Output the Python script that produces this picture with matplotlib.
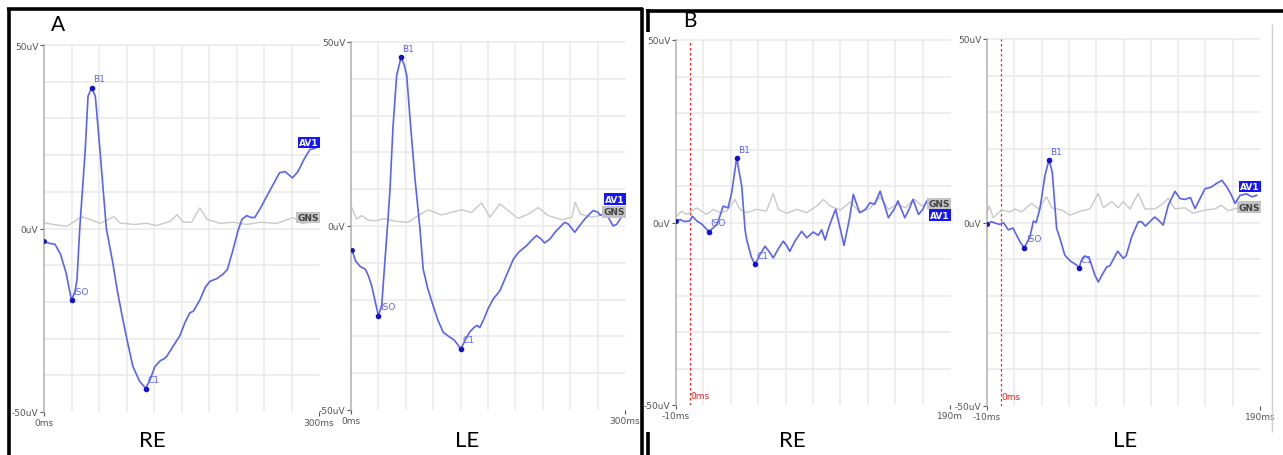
import matplotlib
matplotlib.use("Agg")
import matplotlib.pyplot as plt
from matplotlib.lines import Line2D

# ---- data ----
# Panel A, right eye (time in ms, amplitude in uV)
a_re_t = [0, 5, 12, 18, 24, 30, 34, 36, 39, 45, 48, 52, 56, 61, 68, 75, 80, 86, 92, 97,
          104, 111, 116, 121, 127, 131, 134, 141, 148, 154, 159, 163, 170, 176, 181,
          189, 195, 200, 206, 212, 216, 221, 226, 230, 236, 243, 250, 257, 263, 271,
          277, 284, 290, 295, 299]
a_re_v = [-3.5, -4.0, -4.3, -7, -12, -19.6, -17, -13.9, 0, 21.5, 36, 38.4, 36, 21.5, 0,
          -9.3, -17, -24.8, -32, -37.6, -41.5, -43.6, -41, -37.6, -36, -35.5, -34.8,
          -32, -29.3, -25.5, -23, -22.5, -19.5, -16, -14.4, -13.6, -12.5, -11.2, -6,
          -0.3, 2.5, 3.5, 3.0, 3.0, 5.5, 8.8, 12, 15.2, 15.5, 13.8, 15.5, 19, 21.5,
          21.8, 22.3]
a_re_gns_t = [1, 10, 25, 41, 50, 61, 76, 83, 98, 112, 123, 138, 145, 152, 161, 170,
              178, 192, 207, 221, 236, 254, 272, 281, 299]
a_re_gns_v = [1.5, 1.1, 0.6, 3.2, 2.5, 1.4, 3.2, 1.5, 1.1, 1.4, 0.8, 2.0, 3.8, 1.7,
              1.7, 5.6, 2.5, 1.4, 1.7, 1.1, 1.7, 1.4, 3.0, 1.4, 2.0]

# Panel A, left eye
a_le_t = [1, 5, 10, 15.6, 19, 22.6, 26, 30, 33.6, 37, 40.5, 42.7, 46, 50, 54.7, 58, 61,
          65, 70, 75.5, 79, 84, 90, 95, 101, 107, 113, 120.4, 125, 130, 135, 138, 141,
          146, 150, 155.8, 163, 170, 177.8, 184, 192, 198, 203, 208, 212, 218, 224,
          230, 234, 238, 245, 250, 256, 265, 270, 273, 278, 282, 287, 291, 295, 298]
a_le_v = [-6.4, -9.5, -11, -11.7, -13.5, -16.2, -20, -24.4, -21.6, -10, 1.9, 10, 27,
          40.9, 45.8, 44, 40.9, 28, 13, -0.8, -11.7, -17, -21.7, -25.5, -28.9, -30,
          -31, -33.4, -31, -28.8, -27.5, -27, -27.6, -25, -22.5, -19.8, -17.6, -13.5,
          -9, -7, -5.4, -3.8, -2.6, -3.5, -4.6, -3.5, -1.5, 0, 1, 0.5, -1.7, 0, 1.9,
          4.2, 3.8, 2.9, 3.5, 2.2, 0, 0.5, 2, 3.8]
a_le_gns_t = [0.7, 6, 11.7, 18.9, 26, 37, 48, 62.5, 73.5, 84.5, 99, 110, 121, 132, 143,
              152, 163, 172, 183, 194, 205, 216, 231, 242, 245.5, 251, 264, 275, 286,
              297]
a_le_gns_v = [5.1, 1.9, 2.8, 1.6, 1.4, 2.0, 1.3, 1.0, 2.8, 4.4, 3.0, 3.7, 4.4, 3.7,
              6.3, 2.4, 6.0, 4.2, 2.1, 3.2, 5.0, 2.8, 1.7, 2.4, 6.5, 3.2, 2.4, 3.0,
              2.8, 2.4]

# Panel B, right eye
b_re_t = [-10, -7, -4, 0, 2, 5, 9, 14, 17, 20, 22, 24.4, 28, 30.6, 34.3, 38, 40.4,
          41.6, 45, 47.7, 51, 55, 58, 61, 65, 68.3, 71, 73, 77, 81.7, 85.4, 90.2, 93.9,
          96.3, 98.8, 101, 103.6, 106.5, 110, 112.6, 116.5, 119.4, 124, 128, 131.6,
          135, 139, 142, 145, 149, 152, 157, 160, 163, 167, 170, 173, 178]
b_re_v = [0.5, 0.8, 0.3, 0.4, 1.7, 0.5, -0.5, -2.5, -1.5, -0.5, 1.7, 4.5, 4, 8.1, 17.7,
          9.9, -2, -4.7, -9.5, -11.5, -9, -6.5, -8, -9.7, -7, -5.1, -6.5, -7.9, -5,
          -2.4, -4.2, -2.6, -3.5, -2, -4.8, -2, 0.8, 3.6, -1.9, -6.3, 0.8, 7.7, 2.7,
          3.5, 5.4, 5.0, 8.6, 5, 1.3, 3.5, 5.9, 1.3, 3.5, 6.3, 2.2, 3.5, 5.9, 2.7]
b_re_gns_t = [-9.5, -6, -2.3, 5, 12.3, 17.2, 22, 27, 33, 36.7, 41.5, 48.8, 56, 61,
              64.7, 70.8, 78, 85.4, 92.7, 97.6, 102.4, 110, 117, 124.5, 131.8, 139,
              145, 151.4, 157.5, 163.5, 169.6, 175.7, 178]
b_re_gns_v = [1.7, 3.1, 2.2, 4.0, 2.2, 3.6, 2.7, 3.1, 6.3, 3.6, 2.7, 3.6, 3.1, 8.0,
              3.6, 2.5, 3.6, 2.7, 4.5, 6.3, 4.5, 3.4, 5.6, 2.7, 4.0, 7.0, 3.6, 5.0,
              4.0, 6.5, 4.5, 5.8, 5.4]

# Panel B, left eye
b_le_t = [-10, -6.6, -3, -0.5, 2, 5.6, 9, 14.2, 17.3, 21.5, 24, 26, 28.8, 32.5, 35.4,
          37.8, 41, 43.5, 47, 51, 55.7, 57.4, 59, 61.8, 65, 69, 71.5, 74, 77.7, 80,
          85.7, 89.9, 92, 96, 100.8, 103.3, 106, 110, 113, 116, 119, 122.8, 127.7,
          131.4, 135, 139, 142.4, 146, 149.7, 154, 158, 162, 165.7, 169, 171.7, 175.4,
          180, 184, 187.6]
b_le_v = [-0.3, 0.2, -0.3, -0.5, 0, -2, -1.5, -5.3, -6.9, -3.9, 0.4, 0, 3.8, 12.9, 17,
          13.8, -1.6, -4.4, -8.9, -10.5, -11.6, -12.5, -10.5, -9.1, -9.8, -14.3, -16.2,
          -14.5, -12.1, -11.8, -7.8, -9.8, -9, -3.9, 0.2, 0.2, -1, 0.5, 1.5, 0.5, -0.7,
          4.7, 8.5, 6.5, 6.3, 6.8, 3.8, 6.5, 9.2, 9.6, 10.6, 11.5, 9.7, 7.5, 5.2, 7.4,
          7.8, 7, 7.4]
b_le_gns_t = [-9.8, -8.3, -5.4, 0.7, 6.8, 10.5, 15.4, 22.7, 27.6, 33.7, 37.4, 44.7,
              50.8, 59.3, 65.4, 71.5, 75.2, 81.3, 86.2, 89.8, 94.7, 100.8, 105.7, 113,
              119.1, 122.8, 127.7, 135, 141, 149.6, 156.9, 161.8, 166.6, 174, 181.3]
b_le_gns_v = [2.9, 4.5, 1.3, 3.4, 2.9, 3.7, 2.9, 5.2, 3.7, 7.0, 4.0, 3.4, 2.0, 3.2,
              3.7, 7.9, 4.0, 5.7, 4.0, 5.7, 3.7, 7.9, 3.7, 3.7, 5.2, 6.6, 3.7, 4.0,
              2.5, 3.4, 3.7, 4.7, 3.2, 4.0, 3.7]

# peak markers: name -> (ms, uV)
a_re_peaks = {"B1": (52, 38.4), "ISO": (30, -19.6), "C1": (111, -43.6)}
a_le_peaks = {"B1": (54.7, 45.8), "ISO": (30, -24.4), "C1": (120.4, -33.4)}
b_re_peaks = {"B1": (34.3, 17.7), "ISO": (14, -2.5), "C1": (47.7, -11.5)}
b_le_peaks = {"B1": (35.4, 17.0), "ISO": (17.3, -6.9), "C1": (57.4, -12.5)}

# trace tag heights (uV) for the AV1 / GNS boxes
a_re_tags = (23.4, 3.0)
a_le_tags = (7.3, 3.9)
b_re_tags = (2.0, 5.2)
b_le_tags = (9.8, 4.2)

CURVE = "#5a63f2"
DOT = "#1212c8"
GNS = "#c9c9c9"
GRID = "#e9e9e9"
TICK = "#555555"
NARROW = ["Liberation Sans Narrow", "DejaVu Sans"]
BIG = ["Lato", "DejaVu Sans"]

W, H = 1283, 456


def px_axes(fig, x0, x1, y0, y1):
    return fig.add_axes([x0 / W, 1 - y1 / H, (x1 - x0) / W, (y1 - y0) / H])


def draw_panel(ax, t, v, gt, gv, peaks, tags, xmin, xmax, xgrid, xlabels, zero_line):
    ax.set_xlim(xmin, xmax)
    ax.set_ylim(-50, 50)
    for yy in range(-40, 51, 10):
        ax.axhline(yy, color=GRID, lw=1.1, zorder=0, clip_on=False)
    for xx in xgrid:
        ax.axvline(xx, color=GRID, lw=1.1, zorder=0)
    for s in ["top", "right", "bottom"]:
        ax.spines[s].set_visible(False)
    ax.spines["left"].set_color("#b0b0b0")
    ax.spines["left"].set_linewidth(1.1)

    ax.set_yticks([-50, 0, 50])
    ax.set_yticklabels(["-50uV", "0uV", "50uV"], family=NARROW, fontsize=6.5,
                       color=TICK)
    ax.set_xticks([xmin, xmax])
    ax.set_xticklabels(xlabels, family=NARROW, fontsize=6.5, color=TICK)
    ax.tick_params(axis="y", length=3, width=0.8, color=TICK, pad=1)
    ax.tick_params(axis="x", length=3, width=0.8, color=TICK, pad=1)

    if zero_line:
        ax.axvline(0, color="#ff2020", lw=0.9, ls=(0, (2, 2)), zorder=1)
        ax.text(0.8, -47.5, "0ms", color="#ff2020", fontsize=6.5, family=NARROW,
                ha="left", va="center")

    ax.plot(gt, gv, color=GNS, lw=1.0, zorder=2)
    ax.plot(t, v, color=CURVE, lw=1.2, zorder=3)
    ax.plot([t[0]], [v[0]], "o", color=DOT, ms=2.5, zorder=4)

    span = xmax - xmin
    for name, (px, py) in peaks.items():
        ax.plot([px], [py], "o", color=DOT, ms=3, zorder=4)
        ax.text(px + span * 0.005, py + 1.2, name, color=CURVE, fontsize=6.5,
                family=NARROW, ha="left", va="bottom", zorder=5)

    av1_y, gns_y = tags
    ax.text(xmax, av1_y, "AV1", color="white", fontsize=6.5, family=NARROW,
            weight="bold", ha="right", va="center", zorder=6,
            bbox=dict(boxstyle="square,pad=0.15", fc="#1414ff", ec="none"))
    ax.text(xmax, gns_y, "GNS", color="#444444", fontsize=6.5, family=NARROW,
            weight="bold", ha="right", va="center", zorder=6,
            bbox=dict(boxstyle="square,pad=0.15", fc="#c4c4c4", ec="none"))


fig = plt.figure(figsize=(W / 100, H / 100), dpi=100)
fig.patch.set_facecolor("white")

ax1 = px_axes(fig, 44, 319, 46, 413)
draw_panel(ax1, a_re_t, a_re_v, a_re_gns_t, a_re_gns_v, a_re_peaks, a_re_tags,
           0, 300, range(30, 300, 30), ["0ms", "300ms"], False)

ax2 = px_axes(fig, 351, 625, 43, 411)
draw_panel(ax2, a_le_t, a_le_v, a_le_gns_t, a_le_gns_v, a_le_peaks, a_le_tags,
           0, 300, range(30, 300, 30), ["0ms", "300ms"], False)

ax3 = px_axes(fig, 676, 950, 41, 406)
draw_panel(ax3, b_re_t, b_re_v, b_re_gns_t, b_re_gns_v, b_re_peaks, b_re_tags,
           -10, 190, range(10, 190, 20), ["-10ms", "190m"], True)

ax4 = px_axes(fig, 987, 1260, 40, 407)
draw_panel(ax4, b_le_t, b_le_v, b_le_gns_t, b_le_gns_v, b_le_peaks, b_le_tags,
           -10, 190, range(10, 190, 20), ["-10ms", "190ms"], True)

# panel letters and eye labels
fig.text(58 / W, 1 - 25 / H, "A", fontsize=15, family=BIG, ha="center", va="center")
fig.text(690 / W, 1 - 21 / H, "B", fontsize=15, family=BIG, ha="center", va="center")
for x, lab in [(152, "RE"), (467, "LE"), (792, "RE"), (1125, "LE")]:
    fig.text(x / W, 1 - 441 / H, lab, fontsize=16, family=BIG, ha="center",
             va="center")


# black frames around the two panels
def fline(xs, ys, lw=2.6, color="black"):
    fig.add_artist(Line2D([x / W for x in xs], [1 - y / H for y in ys],
                          color=color, lw=lw, solid_capstyle="butt"))


fline([8.5, 8.5], [9, 456])
fline([7, 643], [9.5, 9.5])
fline([641.5, 641.5], [9, 456])
fline([646, 1283], [11.5, 11.5])
fline([648, 648], [10, 33])
fline([648, 648], [433, 456])
fline([1272, 1272], [25, 433], lw=1.0, color="#d0d0d0")

fig.savefig("out.png", dpi=100)
plt.close(fig)
